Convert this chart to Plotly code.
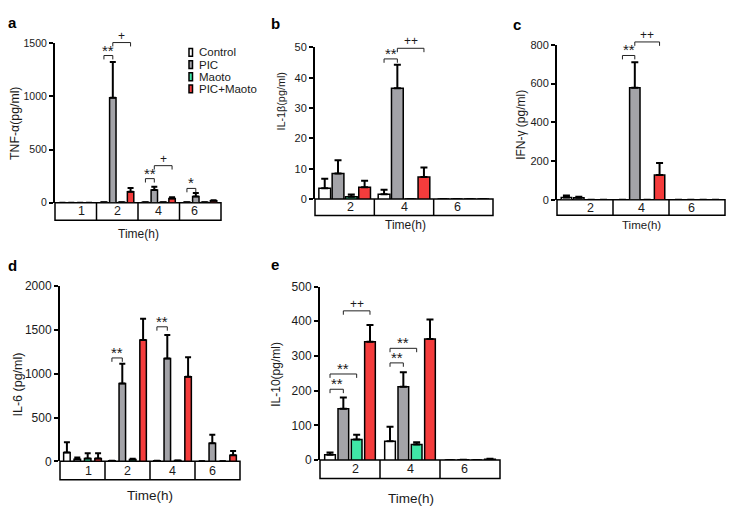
import plotly.graph_objects as go

W, H = 739, 506

# ---------------- data ----------------
series = ["Control", "PIC", "Maoto", "PIC+Maoto"]
colors = ["#ffffff", "#a3a3a8", "#3fe6a6", "#f43c3c"]

# a: TNF-alpha
a_times = ["1", "2", "4", "6"]
a_control = [0, 3, 3, 3]
a_control_err = [0, 0, 0, 0]
a_pic = [0, 988, 119, 58]
a_pic_err = [0, 335, 30, 33]
a_maoto = [0, 5, 3, 4]
a_maoto_err = [0, 0, 0, 0]
a_combo = [0, 103, 38, 18]
a_combo_err = [0, 34, 14, 5]

# b: IL-1beta
b_times = ["2", "4", "6"]
b_control = [3.6, 1.6, 0]
b_control_err = [3.1, 1.5, 0]
b_pic = [8.4, 36.5, 0]
b_pic_err = [4.4, 7.8, 0]
b_maoto = [0.8, 0, 0]
b_maoto_err = [0.7, 0, 0]
b_combo = [3.9, 7.3, 0]
b_combo_err = [2.1, 3.1, 0]

# c: IFN-gamma
c_times = ["2", "4", "6"]
c_control = [12, 0, 0]
c_control_err = [10, 0, 0]
c_pic = [10, 578, 0]
c_pic_err = [6, 132, 0]
c_maoto = [0, 0, 0]
c_maoto_err = [0, 0, 0]
c_combo = [0, 128, 0]
c_combo_err = [0, 62, 0]

# d: IL-6
d_times = ["1", "2", "4", "6"]
d_control = [100, 5, 5, 0]
d_control_err = [118, 0, 0, 0]
d_pic = [22, 889, 1174, 207]
d_pic_err = [22, 225, 270, 97]
d_maoto = [33, 20, 10, 0]
d_maoto_err = [60, 10, 0, 0]
d_combo = [33, 1385, 967, 70]
d_combo_err = [60, 245, 222, 48]

# e: IL-10
e_times = ["2", "4", "6"]
e_control = [15, 54, 0]
e_control_err = [7, 42, 0]
e_pic = [148, 211, 1]
e_pic_err = [32, 42, 0]
e_maoto = [59, 45, 0]
e_maoto_err = [14, 6, 0]
e_combo = [341, 349, 2]
e_combo_err = [48, 56, 2]

# significance brackets: (group index, from series, to series, height in data units, label)
a_sig = [(1, 0, 1, 1384, "**"), (1, 1, 3, 1506, "+"), (2, 0, 1, 226, "**"),
         (2, 1, 3, 348, "+"), (3, 0, 1, 134, "*")]
b_sig = [(1, 0, 1, 46.2, "**"), (1, 1, 3, 49.7, "++")]
c_sig = [(1, 0, 1, 745, "**"), (1, 1, 3, 815, "++")]
d_sig = [(1, 0, 1, 1181, "**"), (2, 0, 1, 1537, "**")]
e_sig = [(0, 0, 1, 204, "**"), (0, 0, 2, 248, "**"), (0, 1, 3, 430, "++"),
         (1, 0, 1, 280, "**"), (1, 0, 2, 322, "**")]

y_titles = ["TNF-α(pg/ml)", "IL-1β(pg/ml)", "IFN-γ (pg/ml)", "IL-6 (pg/ml)", "IL-10(pg/ml)"]
letters = ["a", "b", "c", "d", "e"]
y_max = [1500, 50, 800, 2000, 500]
y_ticks = [[0, 500, 1000, 1500], [0, 10, 20, 30, 40, 50], [0, 200, 400, 600, 800],
           [0, 500, 1000, 1500, 2000], [0, 100, 200, 300, 400, 500]]
x_title = "Time(h)"

panels_data = [
    (a_times, [a_control, a_pic, a_maoto, a_combo], [a_control_err, a_pic_err, a_maoto_err, a_combo_err], a_sig),
    (b_times, [b_control, b_pic, b_maoto, b_combo], [b_control_err, b_pic_err, b_maoto_err, b_combo_err], b_sig),
    (c_times, [c_control, c_pic, c_maoto, c_combo], [c_control_err, c_pic_err, c_maoto_err, c_combo_err], c_sig),
    (d_times, [d_control, d_pic, d_maoto, d_combo], [d_control_err, d_pic_err, d_maoto_err, d_combo_err], d_sig),
    (e_times, [e_control, e_pic, e_maoto, e_combo], [e_control_err, e_pic_err, e_maoto_err, e_combo_err], e_sig),
]

# ---------------- layout (pixels) ----------------
boxes = [
    (47, 213, 29, 193, 18),
    (307, 485, 33.3, 189.3, 17),
    (549, 717, 30.7, 190, 16),
    (52, 232, 279, 459, 19),
    (312, 492, 279.3, 457.7, 19),
]
slot = [0.214, 0.224, 0.221, 0.231, 0.222]
barw = [0.155, 0.198, 0.186, 0.145, 0.178]
tick_fs = [10.5, 11, 11, 12, 12]
title_fs = [12.3, 10.8, 12, 12.5, 12]
ytitle_pos = [(7, 112), (273, 89), (513, 113), (10, 380), (268, 370)]
letter_pos = [(4, 8), (267, 9), (509, 10), (4, 258), (267, 257)]
xtitle_pos = [(130, 225), (397, 216), (633, 216), (142, 494), (403, 497)]
xtitle_fs = [12, 12, 11.5, 13.5, 13.5]
err_cap = [3, 3.5, 3.5, 3, 3.5]

FONT = "Liberation Sans, Arial, sans-serif"
TXT = "#1a1a1a"


def fx(p):
    return p / W


def fy(p):
    return 1 - p / H


fig = go.Figure()
shapes = []
annotations = []
layout = {}

for i, (times, vals, errs, sigs) in enumerate(panels_data):
    ax = "" if i == 0 else str(i + 1)
    xa, ya = "x" + ax, "y" + ax
    l, r, t, b, bh = boxes[i]
    n = len(times)
    ph = b - t
    layout["xaxis" + ax] = dict(domain=[fx(l), fx(r)], range=[-0.5, n - 0.5], visible=False,
                                anchor=ya, fixedrange=True)
    layout["yaxis" + ax] = dict(domain=[fy(b), fy(t)], range=[0, y_max[i]], anchor=xa,
                                tickvals=y_ticks[i], showline=True, linewidth=2, linecolor="black",
                                ticks="outside", ticklen=4, tickwidth=2, tickcolor="black",
                                showgrid=False, zeroline=False, fixedrange=True,
                                tickfont=dict(size=tick_fs[i], color=TXT, family=FONT))
    for k in range(4):
        off = (k - 1.5) * slot[i]
        fig.add_trace(go.Bar(
            x=list(range(n)), y=vals[k], width=barw[i], offset=off - barw[i] / 2,
            xaxis=xa, yaxis=ya, name=series[k], showlegend=False,
            marker=dict(color=colors[k], line=dict(color="black", width=1.5)),
            error_y=dict(type="data", symmetric=False, array=errs[k], arrayminus=[0] * n,
                         color="black", thickness=2, width=err_cap[i]),
            hoverinfo="skip"))
    # time box
    bd = bh / ph
    shapes.append(dict(type="rect", xref=xa + " domain", yref=ya + " domain", x0=0, x1=1,
                       y0=-bd, y1=0, line=dict(color="black", width=1.5), fillcolor="white",
                       layer="below"))
    for j in range(1, n):
        shapes.append(dict(type="line", xref=xa + " domain", yref=ya + " domain", x0=j / n,
                           x1=j / n, y0=-bd, y1=0, line=dict(color="black", width=1.5)))
    for j, tl in enumerate(times):
        annotations.append(dict(text=tl, xref=xa + " domain", yref=ya + " domain",
                                x=(j + 0.5) / n, y=-bd / 2, showarrow=False, yanchor="middle",
                                font=dict(size=12.5, color=TXT, family=FONT)))
    # brackets
    drop = 4 / ph
    for (g, s1, s2, hv, lab) in sigs:
        x1 = g + (s1 - 1.5) * slot[i]
        x2 = g + (s2 - 1.5) * slot[i]
        yd = hv / y_max[i]
        shapes.append(dict(type="path", xref=xa, yref=ya + " domain",
                           path=f"M {x1},{yd - drop} L {x1},{yd} L {x2},{yd} L {x2},{yd - drop}",
                           line=dict(color="#222", width=1)))
        star = "*" in lab
        annotations.append(dict(text=lab, xref=xa, yref=ya + " domain", x=(x1 + x2) / 2, y=yd,
                                yanchor="bottom", showarrow=False, yshift=-5 if star else -2,
                                font=dict(size=15 if star else 12, color=TXT, family=FONT)))
    # titles
    px, py = ytitle_pos[i]
    annotations.append(dict(text=y_titles[i], xref="paper", yref="paper", x=fx(px), y=fy(py),
                            textangle=-90, showarrow=False, xanchor="center", yanchor="middle",
                            font=dict(size=title_fs[i], color=TXT, family=FONT)))
    px, py = xtitle_pos[i]
    annotations.append(dict(text=x_title, xref="paper", yref="paper", x=fx(px), y=fy(py),
                            showarrow=False, xanchor="center", yanchor="middle",
                            font=dict(size=xtitle_fs[i], color=TXT, family=FONT)))
    px, py = letter_pos[i]
    annotations.append(dict(text="<b>" + letters[i] + "</b>", xref="paper", yref="paper",
                            x=fx(px), y=fy(py), showarrow=False, xanchor="center",
                            yanchor="middle", font=dict(size=15, color="black", family=FONT)))

# legend (manual, inside panel a)
leg_x, leg_y0, leg_dy = 181, 38.5, 12.5
for k in range(4):
    yc = leg_y0 + k * leg_dy
    shapes.append(dict(type="rect", xref="paper", yref="paper", x0=fx(leg_x), x1=fx(leg_x + 3.5),
                       y0=fy(yc + 4), y1=fy(yc - 4), fillcolor=colors[k],
                       line=dict(color="black", width=1.5)))
    annotations.append(dict(text=series[k], xref="paper", yref="paper", x=fx(leg_x + 7.5), y=fy(yc),
                            xanchor="left", yanchor="middle", showarrow=False,
                            font=dict(size=11.5, color=TXT, family=FONT)))

fig.update_layout(**layout)
fig.update_layout(width=W, height=H, margin=dict(l=0, r=0, t=0, b=0), barmode="overlay",
                  plot_bgcolor="white", paper_bgcolor="white", showlegend=False,
                  shapes=shapes, annotations=annotations, font=dict(family=FONT))

fig.write_html("out.html")
